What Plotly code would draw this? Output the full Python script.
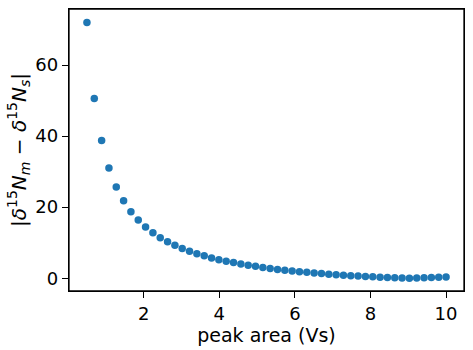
import numpy as np
import plotly.graph_objects as go

# peak area (Vs): 50 evenly spaced samples from 0.5 to 10
peak_area = np.linspace(0.5, 10, 50)

# |d15N_m - d15N_s|
delta_diff = [
    72.0, 50.6, 38.8, 31.0, 25.7, 21.8, 18.7, 16.4, 14.4, 12.8,
    11.4, 10.3, 9.3, 8.4, 7.6, 6.9, 6.3, 5.7, 5.2, 4.8,
    4.4, 4.0, 3.65, 3.35, 3.0, 2.7, 2.45, 2.25, 2.05, 1.85,
    1.65, 1.5, 1.3, 1.15, 1.0, 0.85, 0.72, 0.6, 0.5, 0.38,
    0.27, 0.18, 0.1, 0.04, 0.02, 0.06, 0.12, 0.2, 0.28, 0.36,
]

x_ticks = [2, 4, 6, 8, 10]
y_ticks = [0, 20, 40, 60]

fig = go.Figure()
fig.add_trace(
    go.Scatter(
        x=peak_area,
        y=delta_diff,
        mode='markers',
        marker=dict(color='#1f77b4', size=7.5, line=dict(width=0)),
        showlegend=False,
    )
)

axis_style = dict(
    showline=True, linecolor='black', linewidth=1.3, mirror=True,
    ticks='outside', ticklen=6, tickwidth=1.3, tickcolor='black',
    showgrid=False, zeroline=False,
    tickfont=dict(family='DejaVu Sans', size=18, color='black'),
)

fig.update_xaxes(
    range=[0.025, 10.475], tickvals=x_ticks,
    title=dict(text='peak area (Vs)', font=dict(family='DejaVu Sans', size=19, color='black'), standoff=4),
    **axis_style,
)
fig.update_yaxes(
    range=[-3.6, 75.8], tickvals=y_ticks,
    title=dict(
        text='|<i>δ</i><sup>15</sup><i>N</i><sub><i>m</i></sub> − <i>δ</i><sup>15</sup><i>N</i><sub><i>s</i></sub>|',
        font=dict(family='DejaVu Sans', size=20, color='black'), standoff=3,
    ),
    **axis_style,
)

# full frame around the plotting area
fig.add_shape(type='rect', xref='paper', yref='paper', x0=0, y0=0, x1=1, y1=1,
              line=dict(color='black', width=1.3), layer='above')

fig.update_layout(
    width=473, height=350,
    margin=dict(l=69, r=9, t=9, b=59),
    plot_bgcolor='white', paper_bgcolor='white',
    font=dict(family='DejaVu Sans', color='black'),
)

fig.write_html("out.html", config={'displayModeBar': False},
               post_script="document.body.style.margin='0';")
